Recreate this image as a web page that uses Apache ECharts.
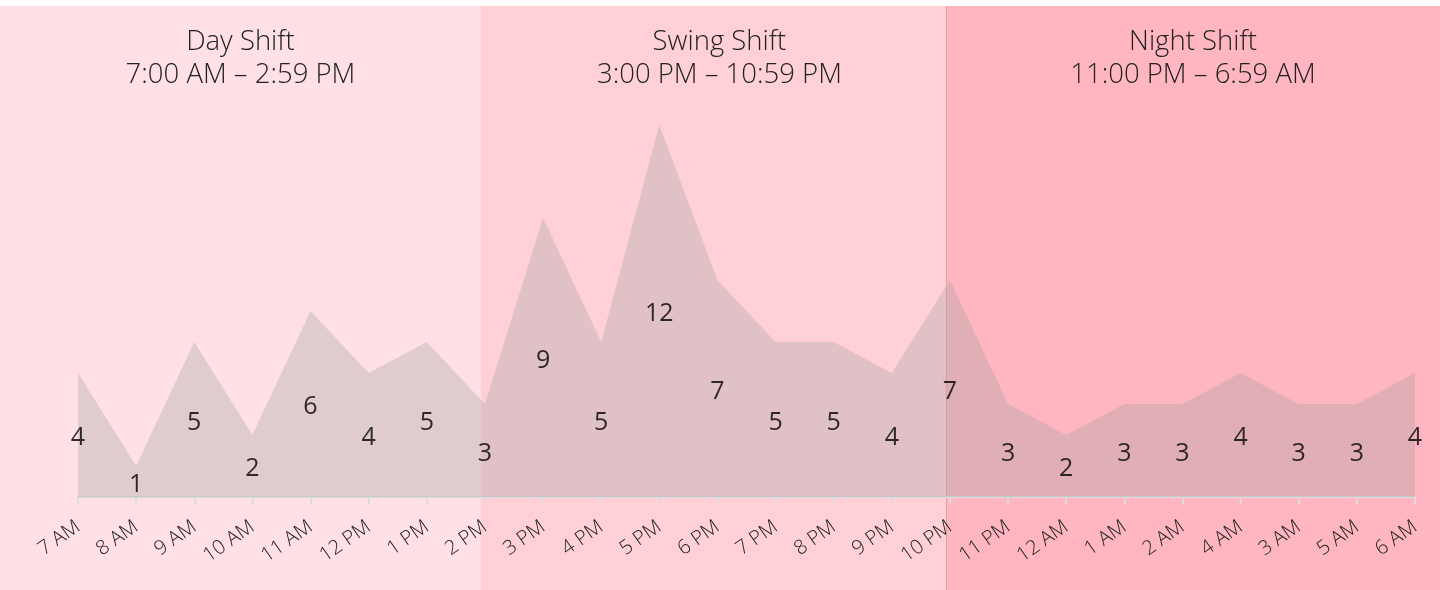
<!DOCTYPE html>
<html><head><meta charset="utf-8">
<script src="https://cdn.jsdelivr.net/npm/echarts@6/dist/echarts.min.js"></script>
<style>html,body{margin:0;padding:0;background:#fff;}#c{width:1440px;height:590px;}</style>
</head><body><div id="c"></div>
<script>
const hours = ['7 AM','8 AM','9 AM','10 AM','11 AM','12 PM','1 PM','2 PM','3 PM','4 PM','5 PM','6 PM','7 PM','8 PM','9 PM','10 PM','11 PM','12 AM','1 AM','2 AM','4 AM','3 AM','5 AM','6 AM'];
const counts = [4,1,5,2,6,4,5,3,9,5,12,7,5,5,4,7,3,2,3,3,4,3,3,4];
const shiftNames = ['Day Shift','Swing Shift','Night Shift'];
const shiftRanges = ['7:00 AM – 2:59 PM','3:00 PM – 10:59 PM','11:00 PM – 6:59 AM'];
const shiftStartIdx = [0,7,15];
const shiftColors = ['#ffe0e4','#ffd1d7','#ffb6c0'];

const chart = echarts.init(document.getElementById('c'));
const FONT = '"Open Sans", sans-serif';
chart.setOption({
  animation:false,
  grid:{left:78,right:25,top:32,bottom:93},
  xAxis:{type:'category',data:hours,boundaryGap:false,
    axisLine:{lineStyle:{color:'#dcdcdc',width:2}},
    axisTick:{show:true,length:7,lineStyle:{color:'#dcdcdc',width:2}},
    axisLabel:{rotate:35,margin:28,fontSize:20,fontWeight:300,color:'#222',fontFamily:FONT,interval:0}
  },
  yAxis:{type:'value',min:0,max:15,show:false,splitLine:{show:false}},
  series:[
    {type:'line',data:counts,symbol:'none',lineStyle:{width:0},
     areaStyle:{color:'rgba(160,160,160,0.33)',opacity:1},z:2},
    {type:'scatter',data:counts.map(v=>v/2),symbolSize:0,z:5,
     label:{show:true,position:'inside',offset:[0,3],formatter:p=>String(counts[p.dataIndex]),
       fontSize:25,color:'#000',fontFamily:FONT}}
  ]
});

const W = 1440, H = 590;
const titleNudge = [0,6,0];
const bounds = shiftStartIdx.map((idx,i)=> i===0 ? 0 : chart.convertToPixel({xAxisIndex:0}, idx) - 4);
bounds.push(W);
const g = [];
for (let i=0;i<3;i++){
  const x0 = bounds[i], x1 = bounds[i+1];
  g.push({type:'rect',shape:{x:x0,y:6,width:x1-x0,height:H-6},style:{fill:shiftColors[i]},z:-10,silent:true});
  const cx = (x0+x1)/2 + titleNudge[i];
  g.push({type:'text',x:cx,y:42,style:{text:shiftNames[i],font:'300 27.5px "Open Sans", sans-serif',fill:'#222',align:'center',verticalAlign:'middle'},z:-5});
  g.push({type:'text',x:cx,y:75,style:{text:shiftRanges[i],font:'300 27.5px "Open Sans", sans-serif',fill:'#222',align:'center',verticalAlign:'middle'},z:-5});
}
g.push({type:'line',shape:{x1:bounds[2]+0.5,y1:6,x2:bounds[2]+0.5,y2:H},style:{stroke:'rgba(225,120,135,0.45)',lineWidth:1},z:-8});
chart.setOption({graphic:g});
</script></body></html>
